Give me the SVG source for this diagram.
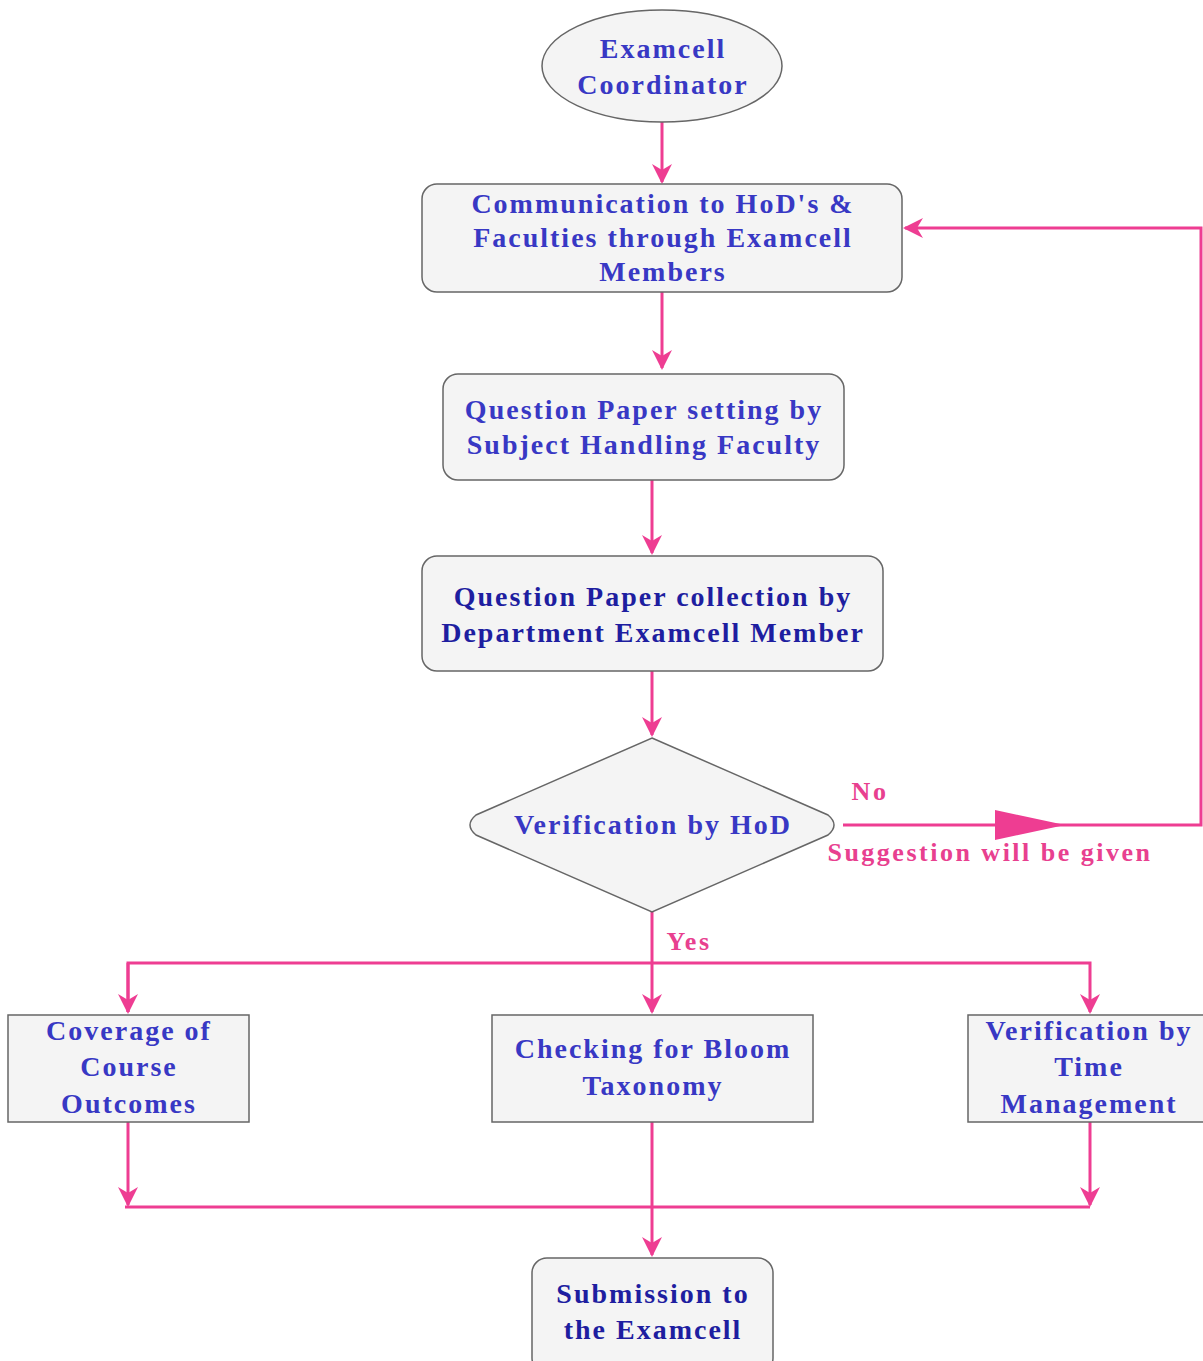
<svg xmlns="http://www.w3.org/2000/svg" width="1203" height="1361" viewBox="0 0 1203 1361">
<style>
.box{fill:#f4f4f4;stroke:#666;stroke-width:1.5}
.t{font-family:"Liberation Serif",serif;font-weight:bold;font-size:28px;letter-spacing:2px;fill:#3838c4;text-anchor:middle}
.d{fill:#1e1ea0}
.lbl{font-family:"Liberation Serif",serif;font-weight:bold;font-size:26px;letter-spacing:2.5px;fill:#e8408f;text-anchor:middle}
.c{fill:none;stroke:#ee3d92;stroke-width:3}
</style>
<defs>
<marker id="a" viewBox="0 0 10 10" refX="9" refY="5" markerWidth="20" markerHeight="20" markerUnits="userSpaceOnUse" orient="auto"><path d="M0,0 L10,5 L0,10 L3,5 z" fill="#ee3d92"/></marker>
</defs>
<rect width="1203" height="1361" fill="#fff"/>
<g id="connectors">
<line class="c" x1="662" y1="122" x2="662" y2="182" marker-end="url(#a)"/>
<line class="c" x1="662" y1="292" x2="662" y2="368" marker-end="url(#a)"/>
<line class="c" x1="652" y1="480" x2="652" y2="553" marker-end="url(#a)"/>
<line class="c" x1="652" y1="671" x2="652" y2="735" marker-end="url(#a)"/>
<polyline class="c" points="843,825 1201,825 1201,228 905,228" marker-end="url(#a)"/>
<path d="M995,810 L1065,825 L995,840 z" fill="#ee3d92"/>
<line class="c" x1="652" y1="912" x2="652" y2="1012" marker-end="url(#a)"/>
<polyline class="c" points="128,1012 128,963 1090,963 1090,1012" marker-end="url(#a)"/>
<line class="c" x1="128" y1="963" x2="128" y2="1012" marker-end="url(#a)"/>
<line class="c" x1="128" y1="1122" x2="128" y2="1205" marker-end="url(#a)"/>
<line class="c" x1="1090" y1="1122" x2="1090" y2="1205" marker-end="url(#a)"/>
<line class="c" x1="125" y1="1207" x2="1090" y2="1207"/>
<line class="c" x1="652" y1="1122" x2="652" y2="1255" marker-end="url(#a)"/>
<text class="lbl" x="870" y="800">No</text>
<text class="lbl" x="990" y="861">Suggestion will be given</text>
<text class="lbl" x="689" y="950">Yes</text>
</g>
<g id="n1">
<ellipse class="box" cx="662" cy="66" rx="120" ry="56"/>
<text class="t" x="663" y="58">Examcell</text>
<text class="t" x="663" y="94">Coordinator</text>
</g>
<g id="n2">
<rect class="box" x="422" y="184" width="480" height="108" rx="15"/>
<text class="t" x="663" y="213">Communication to HoD's &amp;</text>
<text class="t" x="663" y="247">Faculties through Examcell</text>
<text class="t" x="663" y="281">Members</text>
</g>
<g id="n3">
<rect class="box" x="443" y="374" width="401" height="106" rx="15"/>
<text class="t" x="644" y="419">Question Paper setting by</text>
<text class="t" x="644" y="454">Subject Handling Faculty</text>
</g>
<g id="n4">
<rect class="box" x="422" y="556" width="461" height="115" rx="15"/>
<text class="t d" x="653" y="606">Question Paper collection by</text>
<text class="t d" x="653" y="642">Department Examcell Member</text>
</g>
<g id="n5">
<path class="box" d="M652,738 L828,815 Q840,825 828,835 L652,912 L476,835 Q464,825 476,815 Z"/>
<text class="t" x="653" y="834">Verification by HoD</text>
</g>
<g id="n6">
<rect class="box" x="8" y="1015" width="241" height="107"/>
<text class="t" x="129" y="1040">Coverage of</text>
<text class="t" x="129" y="1076">Course</text>
<text class="t" x="129" y="1113">Outcomes</text>
</g>
<g id="n7">
<rect class="box" x="492" y="1015" width="321" height="107"/>
<text class="t" x="653" y="1058">Checking for Bloom</text>
<text class="t" x="653" y="1095">Taxonomy</text>
</g>
<g id="n8">
<rect class="box" x="968" y="1015" width="240" height="107"/>
<text class="t" x="1089" y="1040">Verification by</text>
<text class="t" x="1089" y="1076">Time</text>
<text class="t" x="1089" y="1113">Management</text>
</g>
<g id="n9">
<rect class="box" x="532" y="1258" width="241" height="115" rx="15"/>
<text class="t d" x="653" y="1303">Submission to</text>
<text class="t d" x="653" y="1339">the Examcell</text>
</g>
</svg>
